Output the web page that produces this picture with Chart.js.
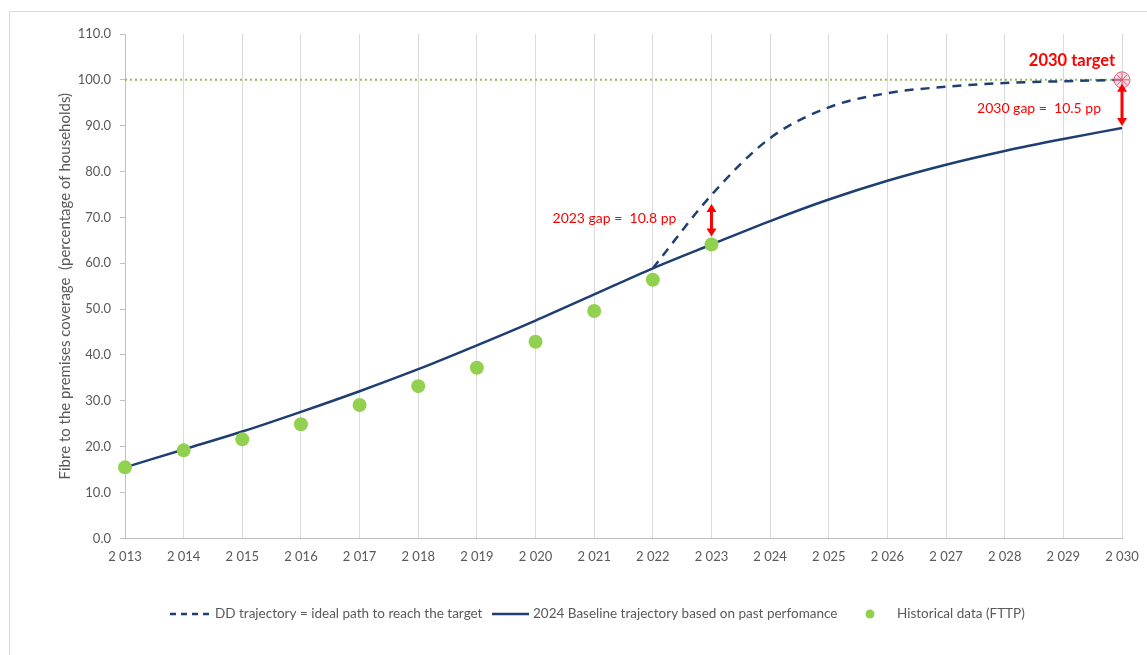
<!DOCTYPE html>
<html>
<head>
<meta charset="utf-8">
<script src="https://cdn.jsdelivr.net/npm/chart.js@4.4.1/dist/chart.umd.min.js"></script>
<style>
  html, body { margin: 0; padding: 0; background: #ffffff; }
  #wrap { width: 1147px; height: 655px; }
</style>
</head>
<body>
<div id="wrap"><canvas id="chart" width="1147" height="655"></canvas></div>
<script>
// Years on the x axis (displayed with a thousands space)
const years = ['2 013','2 014','2 015','2 016','2 017','2 018','2 019','2 020','2 021',
               '2 022','2 023','2 024','2 025','2 026','2 027','2 028','2 029','2 030'];

// Historical FTTP coverage (% of households)
const historical = [15.5, 19.2, 21.6, 24.9, 29.1, 33.2, 37.2, 42.9, 49.6, 56.4, 64.1,
                    null, null, null, null, null, null, null];

// 2024 baseline trajectory based on past performance
const baseline = [15.5, 19.4, 23.3, 27.6, 32.1, 36.9, 42.1, 47.5, 53.2, 58.9, 64.1,
                  69.2, 73.9, 78.0, 81.5, 84.5, 87.1, 89.5];

// DD trajectory: ideal path to reach the 2030 target
const ddPath = [null, null, null, null, null, null, null, null, null,
                58.9, 74.9, 87.3, 94.0, 97.1, 98.5, 99.3, 99.7, 100.0];

// 2030 target level
const targetLevel = years.map(() => 100.0);
const targetPoint = [null, null, null, null, null, null, null, null, null,
                     null, null, null, null, null, null, null, null, 100.0];

// Gap annotations: year index and text
const gapYears = [10, 17];
const gapTexts = ['2023 gap =  10.8 pp', '2030 gap =  10.5 pp'];

const NAVY = '#1f3f73';
const GREEN = '#92d050';
const RED = '#ff0000';
const GREY_TXT = '#595959';
const FONT = 'Lato, "Liberation Sans", sans-serif';

function arrow(ctx, x, y1, y2) {
  // double-headed vertical arrow from y1 (top) to y2 (bottom)
  const head = 8, half = 5;
  ctx.save();
  ctx.strokeStyle = RED;
  ctx.fillStyle = RED;
  ctx.lineWidth = 3;
  ctx.beginPath();
  ctx.moveTo(x, y1 + head - 1);
  ctx.lineTo(x, y2 - head + 1);
  ctx.stroke();
  ctx.beginPath();
  ctx.moveTo(x, y1); ctx.lineTo(x - half, y1 + head); ctx.lineTo(x + half, y1 + head);
  ctx.closePath(); ctx.fill();
  ctx.beginPath();
  ctx.moveTo(x, y2); ctx.lineTo(x - half, y2 - head); ctx.lineTo(x + half, y2 - head);
  ctx.closePath(); ctx.fill();
  ctx.restore();
}

const decorations = {
  id: 'decorations',
  beforeDraw(chart) {
    const ctx = chart.ctx;
    ctx.save();
    ctx.strokeStyle = '#d9d9d9';
    ctx.lineWidth = 1;
    ctx.beginPath();
    ctx.moveTo(9.5, chart.height);
    ctx.lineTo(9.5, 11.5);
    ctx.lineTo(chart.width, 11.5);
    ctx.stroke();
    ctx.restore();
  },
  afterDatasetsDraw(chart) {
    const ctx = chart.ctx;
    const xs = chart.scales.x, ys = chart.scales.y;
    // gap arrows and labels
    gapYears.forEach((idx, k) => {
      const x = xs.getPixelForValue(idx);
      const yTop = ys.getPixelForValue(ddPath[idx]);
      const yBot = ys.getPixelForValue(baseline[idx]);
      const inset = k === 0 ? 9 : 4;
      arrow(ctx, x, yTop + inset, yBot - (k === 0 ? 8 : 2));
      ctx.save();
      ctx.fillStyle = RED;
      ctx.font = '14px ' + FONT;
      ctx.textAlign = 'right';
      ctx.textBaseline = 'middle';
      const midY = (yTop + yBot) / 2;
      if (k === 0) ctx.fillText(gapTexts[k], x - 35, midY - 1);
      else ctx.fillText(gapTexts[k], x - 21, midY + 5);
      ctx.restore();
    });
    // target title
    const tx = xs.getPixelForValue(17);
    const ty = ys.getPixelForValue(100);
    ctx.save();
    ctx.fillStyle = RED;
    ctx.font = 'bold 16.5px ' + FONT;
    ctx.textAlign = 'center';
    ctx.textBaseline = 'middle';
    ctx.fillText('2030 target', tx - 50, ty - 19);
    ctx.restore();
  },
  afterDraw(chart) {
    // legend row
    const ctx = chart.ctx;
    const y = 614;
    ctx.save();
    ctx.font = '13.5px ' + FONT;
    ctx.fillStyle = GREY_TXT;
    ctx.textBaseline = 'middle';
    ctx.textAlign = 'left';
    ctx.strokeStyle = NAVY;
    ctx.lineWidth = 2.5;
    ctx.setLineDash([6, 5]);
    ctx.beginPath(); ctx.moveTo(170, y); ctx.lineTo(212, y); ctx.stroke();
    ctx.fillText('DD trajectory = ideal path to reach the target', 215, y);
    ctx.setLineDash([]);
    ctx.beginPath(); ctx.moveTo(492, y); ctx.lineTo(529, y); ctx.stroke();
    ctx.fillText('2024 Baseline trajectory based on past perfomance', 533, y);
    ctx.fillStyle = GREEN;
    ctx.beginPath(); ctx.arc(870, y, 4.5, 0, Math.PI * 2); ctx.fill();
    ctx.fillStyle = GREY_TXT;
    ctx.fillText('Historical data (FTTP)', 897, y);
    ctx.restore();
  }
};

new Chart(document.getElementById('chart'), {
  type: 'line',
  data: {
    labels: years,
    datasets: [
      {
        label: 'Target marker star',
        data: targetPoint,
        showLine: false,
        pointStyle: 'star',
        pointRadius: 7,
        pointBorderColor: '#e8506a',
        pointBorderWidth: 1,
        pointBackgroundColor: 'rgba(0,0,0,0)',
        order: 0
      },
      {
        label: 'Target marker',
        data: targetPoint,
        showLine: false,
        pointStyle: 'circle',
        pointRadius: 8,
        pointBorderColor: '#e05a7a',
        pointBorderWidth: 1,
        pointBackgroundColor: 'rgba(250,200,215,0.6)',
        order: 1
      },
      {
        label: 'Historical data (FTTP)',
        data: historical,
        showLine: false,
        pointRadius: 7,
        pointBackgroundColor: GREEN,
        pointBorderColor: GREEN,
        pointBorderWidth: 0,
        order: 2
      },
      {
        label: 'DD trajectory = ideal path to reach the target',
        data: ddPath,
        borderColor: NAVY,
        borderWidth: 2.5,
        borderDash: [9, 7],
        pointRadius: 0,
        cubicInterpolationMode: 'monotone',
        fill: false,
        order: 3
      },
      {
        label: '2024 Baseline trajectory based on past perfomance',
        data: baseline,
        borderColor: NAVY,
        borderWidth: 2.5,
        pointRadius: 0,
        cubicInterpolationMode: 'monotone',
        fill: false,
        order: 4
      },
      {
        label: 'Target',
        data: targetLevel,
        borderColor: '#9bbb59',
        borderWidth: 2,
        borderDash: [2, 3],
        pointRadius: 0,
        fill: false,
        order: 5
      }
    ]
  },
  options: {
    responsive: false,
    animation: false,
    layout: { padding: { top: 34, right: 25, bottom: 79, left: 0 } },
    plugins: {
      legend: { display: false },
      tooltip: { enabled: false }
    },
    scales: {
      x: {
        type: 'category',
        offset: false,
        grid: { color: '#d9d9d9', lineWidth: 1, drawTicks: false, tickLength: 0 },
        border: { display: true, color: '#bfbfbf' },
        ticks: {
          color: GREY_TXT,
          font: { family: FONT, size: 13 },
          padding: 11,
          maxRotation: 0,
          autoSkip: false
        },
        afterFit(scale) { scale.paddingLeft = 0; scale.paddingRight = 0; }
      },
      y: {
        min: 0,
        max: 110,
        grid: { drawOnChartArea: false, drawTicks: true, tickLength: 5, color: '#bfbfbf' },
        border: { display: true, color: '#bfbfbf' },
        ticks: {
          stepSize: 10,
          color: GREY_TXT,
          font: { family: FONT, size: 13 },
          padding: 9,
          callback: v => v.toFixed(1)
        },
        title: {
          display: true,
          text: 'Fibre to the premises coverage  (percentage of households)',
          color: GREY_TXT,
          font: { family: FONT, size: 15 },
          padding: { top: 56, bottom: 0 }
        },
        afterFit(scale) { scale.width = 125; }
      }
    }
  },
  plugins: [decorations]
});
</script>
</body>
</html>
